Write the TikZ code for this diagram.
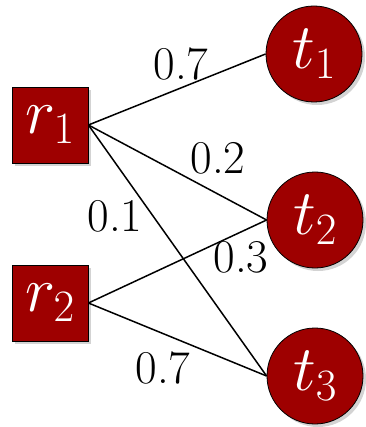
\documentclass[tikz,border=0pt]{standalone}
\usepackage{fix-cm}
\usepackage{fontspec}
\usetikzlibrary{shadows}
\definecolor{nodered}{RGB}{158,0,0}
\begin{document}
\begin{tikzpicture}[x=1pt,y=-1pt,
  src/.style={rectangle, draw, thick, fill=nodered, minimum size=76pt, inner sep=0pt, text=white, font=\fontsize{64}{64}\selectfont,
    drop shadow={shadow xshift=3pt, shadow yshift=-3pt, opacity=0.35}},
  tgt/.style={circle, draw, thick, fill=nodered, minimum size=96pt, inner sep=0pt, text=white, font=\fontsize{64}{64}\selectfont,
    drop shadow={shadow xshift=3pt, shadow yshift=-3pt, opacity=0.35}},
  weight/.style={font=\fontsize{47}{47}\selectfont, inner sep=0pt},
  edge/.style={line width=1.5pt}
]
\useasboundingbox (0,0) rectangle (365,427);

% sources on the left
\node[src] (r1) at (50,125) {$r_1$};
\node[src] (r2) at (50,303) {$r_2$};

% targets on the right
\node[tgt] (t1) at (314,54) {$t_1$};
\node[tgt] (t2) at (315,220) {$t_2$};
\node[tgt] (t3) at (315,376) {$t_3$};

% edges
\draw[edge] (r1.east) -- (t1.west);
\draw[edge] (r1.east) -- (t2.west);
\draw[edge] (r1.east) -- (t3.west);
\draw[edge] (r2.east) -- (t2.west);
\draw[edge] (r2.east) -- (t3.west);

% weights
\node[weight] (w11) at (181,64) {0.7};
\node[weight] (w12) at (218,158) {0.2};
\node[weight] (w13) at (115,216) {0.1};
\node[weight] (w22) at (241,257) {0.3};
\node[weight] (w23) at (163,368) {0.7};

\end{tikzpicture}
\end{document}
